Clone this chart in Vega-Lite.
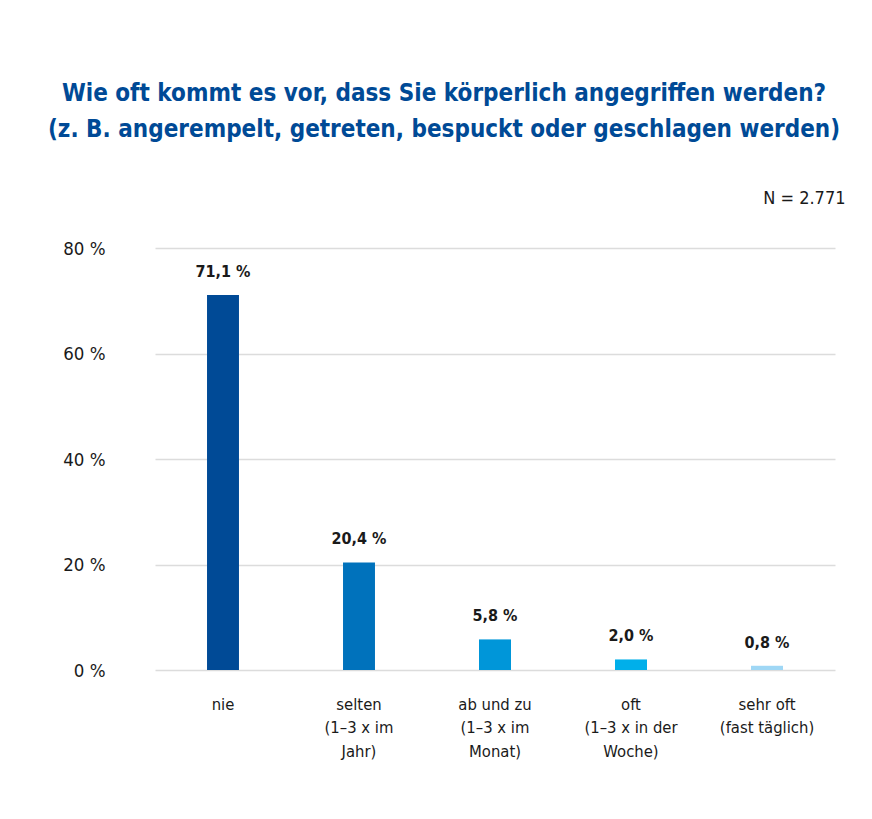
{
  "$schema": "https://vega.github.io/schema/vega-lite/v6.json",
  "width": 680,
  "height": 422,
  "autosize": {"type": "none"},
  "padding": {"left": 155, "top": 248, "right": 37, "bottom": 149},
  "background": "white",
  "title": {
    "text": ["Wie oft kommt es vor, dass Sie körperlich angegriffen werden?", "(z. B. angerempelt, getreten, bespuckt oder geschlagen werden)"],
    "font": "DejaVu Sans Condensed",
    "fontSize": 24,
    "fontWeight": "bold",
    "color": "#004a96",
    "lineHeight": 36,
    "anchor": "middle",
    "dx": -51,
    "offset": 47
  },
  "data": {
    "values": [
      {"cat": "nie", "pct": 71.1, "label": "71,1 %"},
      {"cat": "selten|(1–3 x im|Jahr)", "pct": 20.4, "label": "20,4 %"},
      {"cat": "ab und zu|(1–3 x im|Monat)", "pct": 5.8, "label": "5,8 %"},
      {"cat": "oft|(1–3 x in der|Woche)", "pct": 2.0, "label": "2,0 %"},
      {"cat": "sehr oft|(fast täglich)", "pct": 0.8, "label": "0,8 %"}
    ]
  },
  "encoding": {
    "x": {
      "field": "cat",
      "type": "nominal",
      "sort": null,
      "scale": {"paddingInner": 0.765, "paddingOuter": 0.3825}
    },
    "y": {
      "field": "pct",
      "type": "quantitative",
      "scale": {"domain": [0, 80]}
    }
  },
  "layer": [
    {
      "mark": {"type": "bar"},
      "encoding": {
        "x": {
          "field": "cat",
          "type": "nominal",
          "sort": null,
          "axis": {
            "orient": "bottom",
            "title": null,
            "labelAngle": 0,
            "labelExpr": "split(datum.label, '|')",
            "labelFont": "DejaVu Sans Condensed",
            "labelFontSize": 16.5,
            "labelFontWeight": 500,
            "labelColor": "#1a1a1a",
            "labelLineHeight": 23.5,
            "labelBaseline": "top",
            "labelPadding": 26,
            "ticks": false,
            "domain": false
          }
        },
        "y": {
          "field": "pct",
          "type": "quantitative",
          "axis": {
            "title": null,
            "values": [0, 20, 40, 60, 80],
            "labelExpr": "datum.value + ' %'",
            "labelFont": "DejaVu Sans Condensed",
            "labelFontSize": 18.5,
            "labelColor": "#1a1a1a",
            "labelPadding": 50,
            "labelAlign": "right",
            "ticks": false,
            "domain": false,
            "grid": true,
            "gridColor": "#dcdcdc",
            "gridWidth": 1.5
          }
        },
        "color": {
          "field": "cat",
          "type": "nominal",
          "sort": null,
          "legend": null,
          "scale": {"range": ["#004a96", "#0072bc", "#0096d9", "#00afea", "#9fd7f5"]}
        }
      }
    },
    {
      "mark": {"type": "text", "font": "DejaVu Sans Condensed", "fontSize": 16, "fontWeight": "bold", "color": "#1a1a1a", "baseline": "alphabetic", "dy": -18},
      "encoding": {
        "text": {"field": "label"},
        "x": {
          "field": "cat",
          "type": "nominal",
          "sort": null,
          "axis": {
            "orient": "top",
            "title": "N = 2.771",
            "titleFont": "DejaVu Sans Condensed",
            "titleFontSize": 18,
            "titleFontWeight": "normal",
            "titleColor": "#1a1a1a",
            "titleAnchor": "end",
            "titleAlign": "right",
            "titleX": 690,
            "titlePadding": 41,
            "labels": false,
            "ticks": false,
            "domain": false,
            "grid": false
          }
        }
      }
    }
  ],
  "resolve": {"axis": {"x": "independent"}},
  "config": {"view": {"stroke": null}}
}
